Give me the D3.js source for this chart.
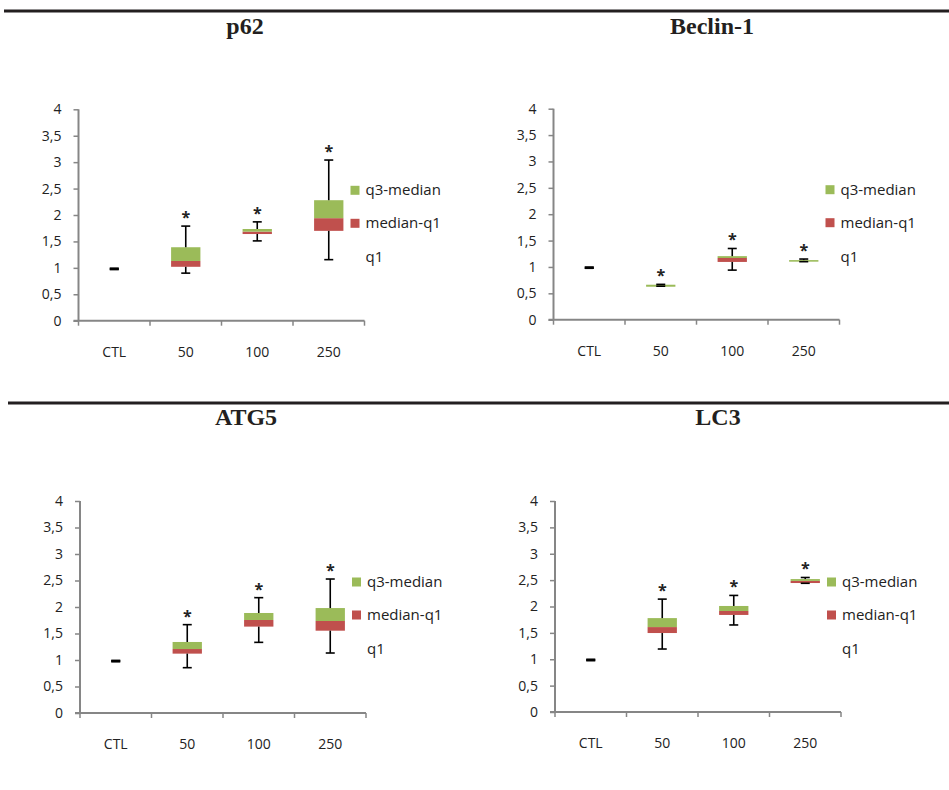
<!DOCTYPE html>
<html><head><meta charset="utf-8">
<script src="https://cdn.jsdelivr.net/npm/d3@7"></script>
<style>body{margin:0;background:#fff}svg{display:block}</style>
</head><body>
<script>
const categories = ["CTL","50","100","250"];
const yTicks = [0,0.5,1,1.5,2,2.5,3,3.5,4];
const yTickLabels = ["0","0,5","1","1,5","2","2,5","3","3,5","4"];
const legendLabels = ["q3-median","median-q1","q1"];
const titles = ["p62","Beclin-1","ATG5","LC3"];

const p62Min    = [0.98, 0.90, 1.51, 1.155];
const p62Q1     = [0.98, 1.02, 1.64, 1.70];
const p62Median = [0.98, 1.13, 1.685, 1.94];
const p62Q3     = [0.98, 1.39, 1.735, 2.28];
const p62Max    = [0.98, 1.79, 1.87, 3.04];

const beclinMin    = [0.985, 0.635, 0.94, 1.10];
const beclinQ1     = [0.985, 0.625, 1.095, 1.10];
const beclinMedian = [0.985, 0.625, 1.17, 1.10];
const beclinQ3     = [0.985, 0.663, 1.205, 1.13];
const beclinMax    = [0.985, 0.67, 1.35, 1.15];

const atg5Min    = [0.98, 0.855, 1.333, 1.132];
const atg5Q1     = [0.98, 1.12, 1.63, 1.553];
const atg5Median = [0.98, 1.207, 1.755, 1.736];
const atg5Q3     = [0.98, 1.34, 1.887, 1.98];
const atg5Max    = [0.98, 1.667, 2.176, 2.528];

const lc3Min    = [0.986, 1.194, 1.65, 2.44];
const lc3Q1     = [0.986, 1.497, 1.84, 2.445];
const lc3Median = [0.986, 1.61, 1.915, 2.485];
const lc3Q3     = [0.986, 1.78, 2.01, 2.52];
const lc3Max    = [0.986, 2.14, 2.21, 2.55];

const significant = [false, true, true, true];

const panels = [
  {title: titles[0], min: p62Min, q1: p62Q1, med: p62Median, q3: p62Q3, max: p62Max, x0: 78.5, titleX: 245, titleY: 34, yTop: 109.3, yBot: 320.7},
  {title: titles[1], min: beclinMin, q1: beclinQ1, med: beclinMedian, q3: beclinQ3, max: beclinMax, x0: 553.5, titleX: 712, titleY: 34, yTop: 108.7, yBot: 319.7},
  {title: titles[2], min: atg5Min, q1: atg5Q1, med: atg5Median, q3: atg5Q3, max: atg5Max, x0: 80, titleX: 246, titleY: 425, yTop: 501, yBot: 713},
  {title: titles[3], min: lc3Min, q1: lc3Q1, med: lc3Median, q3: lc3Q3, max: lc3Max, x0: 555, titleX: 718, titleY: 425, yTop: 501, yBot: 712}
];

const W = 949, H = 790;
const svg = d3.select("body").append("svg").attr("width", W).attr("height", H);

// separator lines
svg.append("line").attr("x1",4).attr("x2",949).attr("y1",11).attr("y2",11).attr("stroke","#231f20").attr("stroke-width",3);
svg.append("line").attr("x1",8).attr("x2",949).attr("y1",403).attr("y2",403).attr("stroke","#231f20").attr("stroke-width",3);

const green = "#9bbb59", red = "#c0504d", axisCol = "#868686";
const tickFont = "'Open Sans', sans-serif";

panels.forEach(p => {
  const g = svg.append("g");
  const plotW = 286;
  const x = d3.scaleBand().domain(categories).range([p.x0, p.x0 + plotW]).paddingInner(0).paddingOuter(0);
  const y = d3.scaleLinear().domain([0,4]).range([p.yBot, p.yTop]);
  const bw = x.bandwidth() * 0.41;

  // title
  g.append("text").attr("x", p.titleX).attr("y", p.titleY).attr("text-anchor","middle")
    .attr("font-family","'Liberation Serif', serif").attr("font-weight","bold").attr("font-size",24)
    .attr("fill","#231f20").text(p.title);

  // y axis
  const yAxis = d3.axisLeft(y).tickValues(yTicks).tickFormat((d,i)=>yTickLabels[i]).tickSize(5).tickPadding(12);
  const ya = g.append("g").attr("transform",`translate(${p.x0},0)`).call(yAxis);
  ya.select(".domain").attr("stroke",axisCol).attr("stroke-width",2).attr("d",`M-0,${p.yTop}V${p.yBot}`);
  ya.selectAll(".tick line").attr("stroke",axisCol).attr("stroke-width",1.5);
  ya.selectAll(".tick text").attr("font-family",tickFont).attr("font-size",14).attr("fill","#222");

  // x axis
  const xg = g.append("g").attr("transform",`translate(0,${p.yBot})`);
  xg.append("line").attr("x1",p.x0-5).attr("x2",p.x0+plotW).attr("y1",0).attr("y2",0).attr("stroke",axisCol).attr("stroke-width",2);
  const bounds = categories.map(c => x(c)).concat([p.x0 + plotW]);
  xg.selectAll(".xt").data(bounds).enter().append("line")
    .attr("x1",d=>d).attr("x2",d=>d).attr("y1",0).attr("y2",5).attr("stroke",axisCol).attr("stroke-width",1.5);
  xg.selectAll(".xl").data(categories).enter().append("text")
    .attr("x",d=>x(d)+x.bandwidth()/2).attr("y",36).attr("text-anchor","middle")
    .attr("font-family",tickFont).attr("font-size",14).attr("fill","#222").text(d=>d);

  categories.forEach((c,i) => {
    const cx = x(c) + x.bandwidth()/2;
    // median-q1 (red)
    g.append("rect").attr("x",cx-bw/2).attr("width",bw)
      .attr("y",y(p.med[i])).attr("height",Math.max(0,y(p.q1[i])-y(p.med[i]))).attr("fill",red);
    // q3-median (green)
    g.append("rect").attr("x",cx-bw/2).attr("width",bw)
      .attr("y",y(p.q3[i])).attr("height",Math.max(0,y(p.med[i])-y(p.q3[i]))).attr("fill",green);
    // whiskers
    const wk = g.append("g").attr("stroke","#000").attr("stroke-width",1.6);
    wk.append("line").attr("x1",cx).attr("x2",cx).attr("y1",y(p.q1[i])).attr("y2",y(p.min[i]));
    wk.append("line").attr("x1",cx).attr("x2",cx).attr("y1",y(p.q3[i])).attr("y2",y(p.max[i]));
    const capW = 4.5;
    const capSW = (p.min[i] === p.max[i]) ? 2.6 : 1.6;
    wk.append("line").attr("x1",cx-capW).attr("x2",cx+capW).attr("y1",y(p.min[i])).attr("y2",y(p.min[i])).attr("stroke-width",capSW);
    wk.append("line").attr("x1",cx-capW).attr("x2",cx+capW).attr("y1",y(p.max[i])).attr("y2",y(p.max[i])).attr("stroke-width",capSW);
    if (significant[i]) {
      g.append("text").attr("x",cx).attr("y",y(p.max[i])-3).attr("text-anchor","middle")
        .attr("font-family",tickFont).attr("font-weight","bold").attr("font-size",16).attr("fill","#222").text("*");
    }
  });

  // legend
  const lx = p.x0 + 272;
  const rows = [p.yTop + 81, p.yTop + 114, p.yTop + 148];
  const cols = [green, red, null];
  legendLabels.forEach((lab,j) => {
    if (cols[j]) g.append("rect").attr("x",lx).attr("y",rows[j]-4.5).attr("width",9).attr("height",9).attr("fill",cols[j]);
    g.append("text").attr("x",lx+15).attr("y",rows[j]+5).attr("font-family",tickFont).attr("font-size",15).attr("fill","#222").text(lab);
  });
});
</script>
</body></html>
